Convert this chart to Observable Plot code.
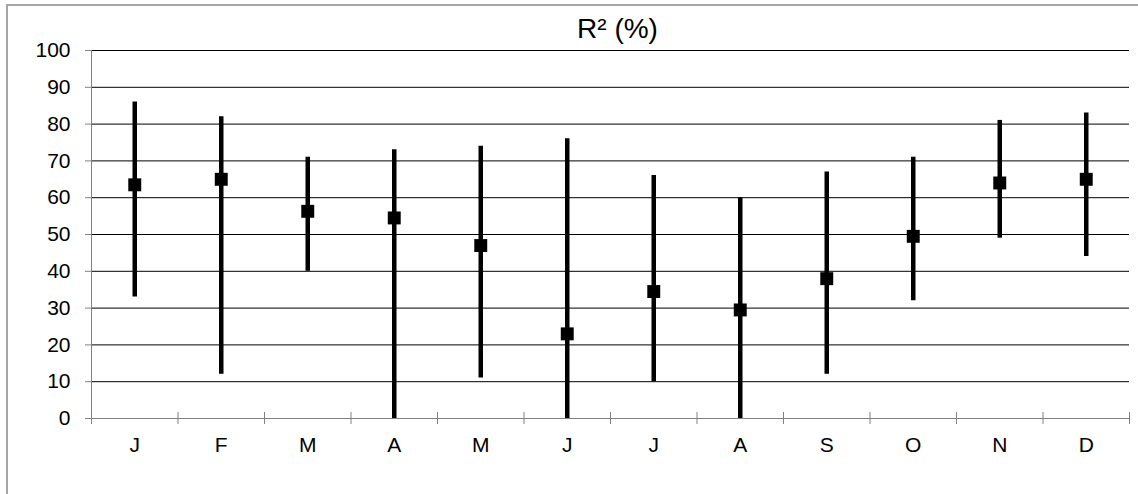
<!DOCTYPE html>
<html>
<head>
<meta charset="utf-8">
<script src="https://cdn.jsdelivr.net/npm/d3@7"></script>
<script src="https://cdn.jsdelivr.net/npm/@observablehq/plot@0.6"></script>
<style>
  html, body { margin: 0; padding: 0; background: #fff; }
  #wrap { position: relative; width: 1138px; height: 494px; overflow: hidden; }
  #frame { position: absolute; left: 6px; top: 4px; right: -10px; bottom: -10px;
           border-top: 2px solid #a6a6a6; border-left: 2px solid #a6a6a6; pointer-events: none; }
</style>
</head>
<body>
<div id="wrap"><div id="frame"></div></div>
<script>
const months = ["J", "F", "M", "A", "M", "J", "J", "A", "S", "O", "N", "D"];
const r2Mean = [63.5, 65, 56.3, 54.5, 47, 23, 34.5, 29.5, 38, 49.5, 64, 65];
const r2Low  = [33, 12, 40, 0, 11, 0, 10, 0, 12, 32, 49, 44];
const r2High = [86, 82, 71, 73, 74, 76, 66, 60, 67, 71, 81, 83];
const yTicks = [0, 10, 20, 30, 40, 50, 60, 70, 80, 90, 100];
const title = "R\u00B2 (%)";

const data = months.map((m, i) => ({ pos: i + 0.5, month: m, mean: r2Mean[i], low: r2Low[i], high: r2High[i] }));
const boundaries = months.map((m, i) => i).concat([months.length]);
const centers = data.map(d => d.pos);

const chart = Plot.plot({
  width: 1138,
  height: 494,
  marginLeft: 91,
  marginRight: 9,
  marginTop: 50,
  marginBottom: 76,
  style: { background: "transparent", fontFamily: "'Liberation Sans', Arial, sans-serif", color: "#000" },
  x: { domain: [0, months.length], label: null },
  y: { domain: [0, 100], label: null },
  marks: [
    Plot.ruleY(yTicks.filter(t => t > 0), { stroke: "#000", strokeWidth: 1 }),
    Plot.ruleY([0], { stroke: "#808080", strokeWidth: 1 }),
    Plot.ruleX([0], { stroke: "#808080", strokeWidth: 1 }),
    Plot.axisY({ ticks: yTicks, tickSize: 6, tickPadding: 15, fontSize: 21, stroke: "#808080", fill: "#000", label: null, tickFormat: d => String(d) }),
    Plot.axisX({ ticks: boundaries, tickSize: 12, dy: -6, stroke: "#808080", label: null, tickFormat: () => "" }),
    Plot.axisX({ ticks: centers, tickSize: 0, tickPadding: 19, fontSize: 21, fill: "#000", label: null, tickFormat: d => months[Math.floor(d)] }),
    Plot.ruleX(data, { x: "pos", y1: "low", y2: "high", stroke: "#000", strokeWidth: 4.5 }),
    Plot.dot(data, { x: "pos", y: "mean", symbol: "square", r: 7.3, fill: "#000", stroke: "none" }),
    Plot.text([title], { frameAnchor: "top", lineAnchor: "bottom", dy: -13, dx: 7, fontSize: 28, fill: "#000" })
  ]
});
chart.style.position = "absolute";
chart.style.left = "0";
chart.style.top = "0";
document.getElementById("wrap").appendChild(chart);
</script>
</body>
</html>
